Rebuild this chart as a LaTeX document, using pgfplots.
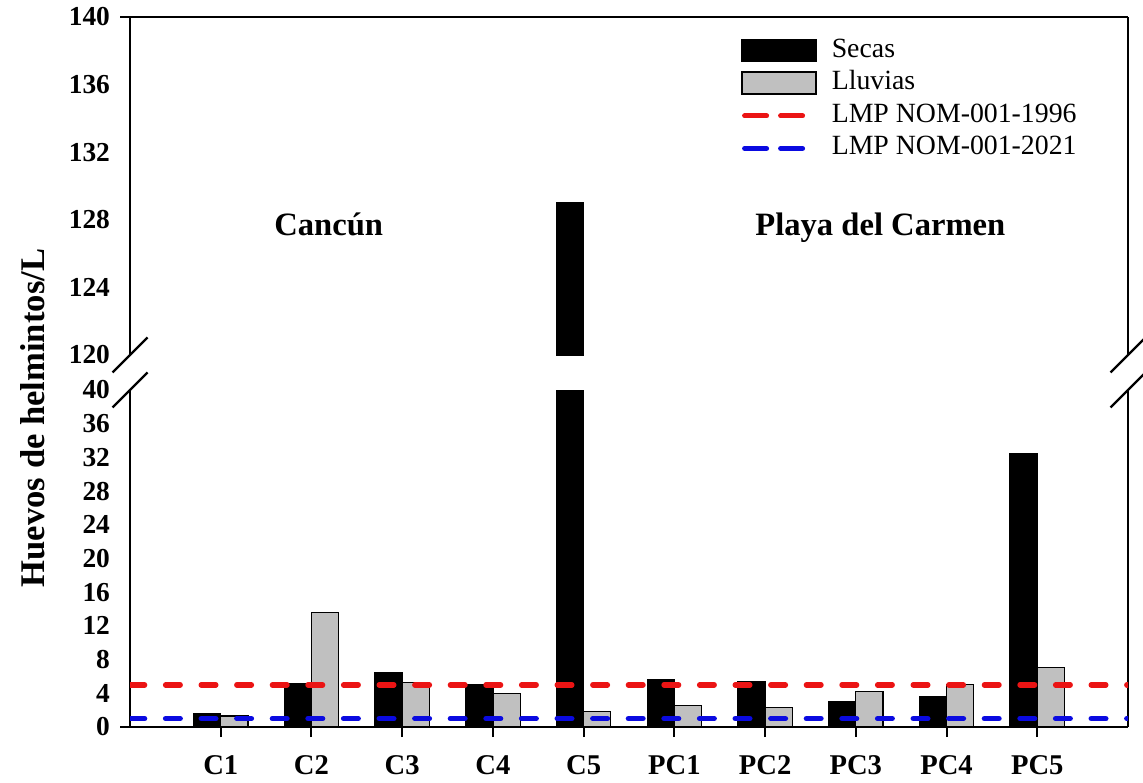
\documentclass[border=0pt]{standalone}
\usepackage{fontspec}
\setmainfont{Liberation Serif}
\usepackage{pgfplots}
\pgfplotsset{compat=1.18}
\usepackage{pgfplotstable}
\definecolor{lluv}{RGB}{192,192,192}
\definecolor{rojo}{RGB}{235,20,20}
\definecolor{azul}{RGB}{10,10,225}

\pgfplotstableread{
x secas lluvias
1 1.6 1.3
2 5.2 13.6
3 6.4 5.3
4 5.0 4.0
5 129 1.8
6 5.6 2.6
7 5.4 2.3
8 3.0 4.2
9 3.6 5.0
10 32.5 7.1
}\datos

\pgfplotsset{
  common/.style={
    scale only axis, width=499pt, xmin=0, xmax=11, anchor=south west,
    axis line style={line width=1pt, black},
    yticklabel style={font=\fontsize{13.7}{14}\selectfont\bfseries,
      /pgf/number format/assume math mode=true, xshift=-6.5pt},
    ytick style={draw=none},
    ytick pos=left,
  },
  secasplot/.style={ybar, bar width=0.3, bar shift=-0.15, fill=black, draw=black, line width=0.6pt},
  lluvplot/.style={ybar, bar width=0.3, bar shift=0.15, fill=lluv, draw=black, line width=0.6pt},
  limplot/.style={#1, line width=2.7pt, dash pattern=on 7.3pt off 10.5pt, line cap=round},
}

\begin{document}
\begin{tikzpicture}
\useasboundingbox (0,0) rectangle (571.5pt,391pt);

% upper axis
\begin{axis}[common, name=up, at={(65pt,213.5pt)}, height=169pt,
  ymin=120, ymax=140, ytick={120,124,...,140},
  axis x line*=top, axis y line*=box, xtick=\empty,
  legend style={at={(0.612,0.95)}, anchor=north west, draw=none, fill=none,
    font=\fontsize{13.9}{16}\selectfont, row sep=0pt, column sep=6pt, inner sep=0pt,
    nodes={text height=10pt, text depth=3.5pt, inner sep=1.4pt}},
  legend cell align=left,
]
\addlegendimage{legend image code/.code={\draw[fill=black,draw=black,line width=0.8pt] (0pt,-5.5pt) rectangle (37pt,5.5pt);}}
\addlegendentry{Secas}
\addlegendimage{legend image code/.code={\draw[fill=lluv,draw=black,line width=0.9pt] (0pt,-5.5pt) rectangle (37pt,5.5pt);}}
\addlegendentry{Lluvias}
\addlegendimage{legend image code/.code={\draw[rojo, line width=2.5pt, line cap=round, dash pattern=on 11pt off 7pt] (1.25pt,0pt) -- (30.25pt,0pt);}}
\addlegendentry{LMP NOM-001-1996}
\addlegendimage{legend image code/.code={\draw[azul, line width=2.5pt, line cap=round, dash pattern=on 11pt off 7pt] (1.25pt,0pt) -- (30.25pt,0pt);}}
\addlegendentry{LMP NOM-001-2021}
\addplot[secasplot, restrict y to domain=120:200, forget plot] table[x=x,y=secas]{\datos};
\node[anchor=base, font=\fontsize{16.3}{18}\selectfont\bfseries] at (axis cs:2.19,127.1) {Cancún};
\node[anchor=base, font=\fontsize{16.3}{18}\selectfont\bfseries] at (axis cs:8.27,127.1) {Playa del Carmen};
\end{axis}

% lower axis
\begin{axis}[common, name=low, at={(65pt,27.5pt)}, height=168.5pt,
  ymin=0, ymax=40, ytick={0,4,...,40},
  axis x line*=bottom, axis y line*=box,
  xtick={1,...,10}, xticklabels={C1,C2,C3,C4,C5,PC1,PC2,PC3,PC4,PC5},
  xtick align=outside, major tick length=5pt,
  xtick style={line width=1pt, black},
  xticklabel style={font=\fontsize{14.3}{15}\selectfont\bfseries, yshift=-5.5pt},
]
\addplot[secasplot] table[x=x,y=secas]{\datos};
\addplot[lluvplot] table[x=x,y=lluvias]{\datos};
\addplot[limplot=rojo] coordinates {(0,5) (11,5)};
\addplot[limplot=azul] coordinates {(0,1) (11,1)};
\end{axis}

% axis end ticks and break marks
\draw[line width=1pt] (up.north west) -- ++(-5pt,0pt);
\draw[line width=1pt] (low.south west) -- ++(-5pt,0pt);
\foreach \a in {up.south west, up.south east, low.north west, low.north east}
  \draw[line width=1.2pt] ([shift={(-8.75pt,-8.75pt)}]\a) -- ++(17.5pt,17.5pt);

\node[rotate=90, font=\fontsize{17.3}{18}\selectfont\bfseries] at (16.5pt,182pt) {Huevos de helmintos/L};
\end{tikzpicture}
\end{document}
